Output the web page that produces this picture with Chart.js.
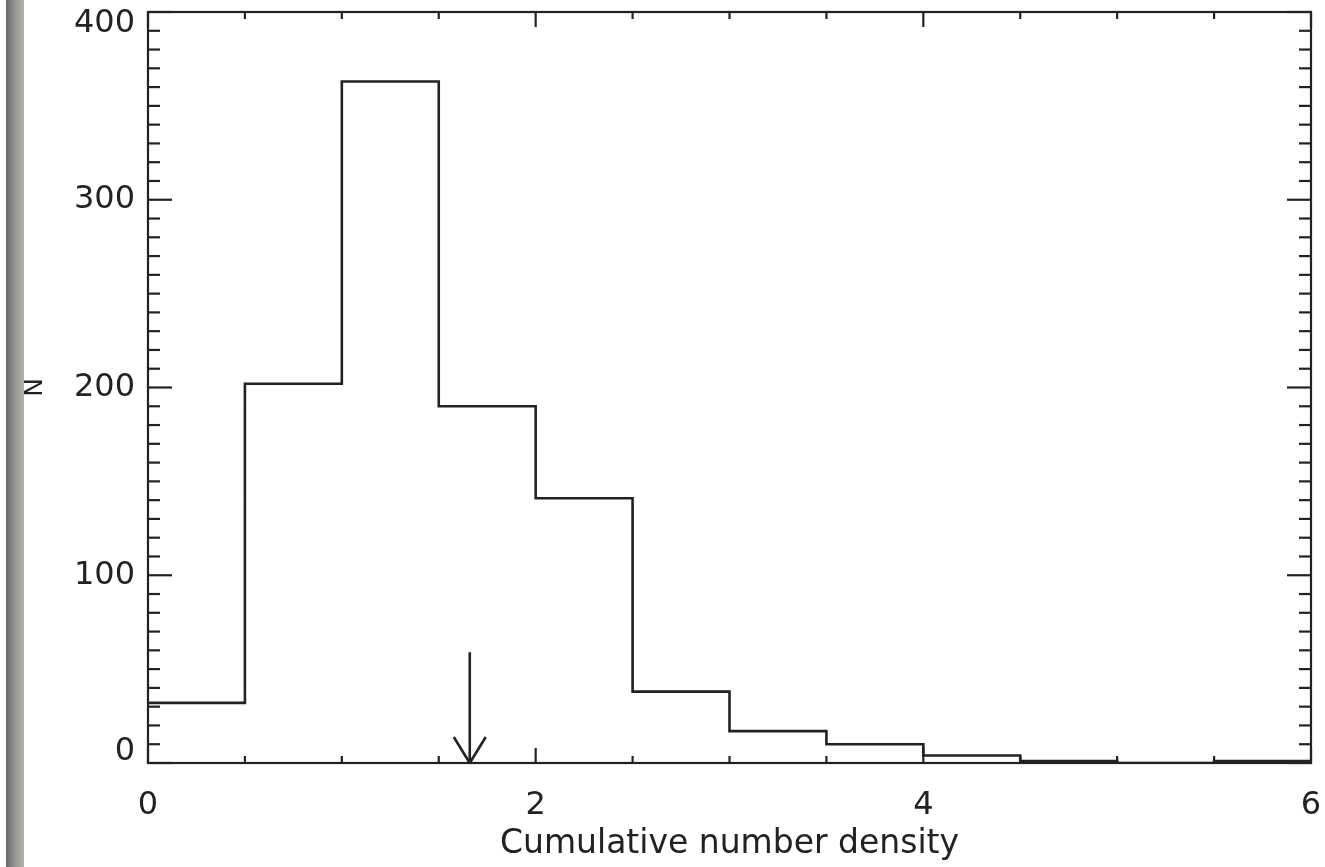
<!DOCTYPE html>
<html>
<head>
<meta charset="utf-8">
<script src="https://cdn.jsdelivr.net/npm/chart.js@4"></script>
<style>
    html, body { margin: 0; padding: 0; background: #fff; }
    .wrap { position: relative; width: 1325px; height: 867px; }
    .side { position: absolute; left: 6px; top: 0; width: 18px; height: 867px;
            background: linear-gradient(to right, #6a6a6a, #9c9c98 60%, #b2b2ac); }
</style>
</head>
<body>
<div class="wrap">
    <canvas id="myChart" width="1325" height="867"></canvas>
    <div class="side"></div>
</div>
<script>
// bin edges (0.5 wide) and counts per bin
const binEdges = [0, 0.5, 1, 1.5, 2, 2.5, 3, 3.5, 4, 4.5, 5, 5.5, 6];
const counts = [32, 202, 363, 190, 141, 38, 17, 10, 4, 1, 0, 1];

// the arrow marking the mean
const arrowX = [1.66, 1.66];
const arrowY = [59, 0];

const yMajor = [0, 100, 200, 300, 400];
const xMajor = [0, 2, 4, 6];

const ink = "#222";
const labelFont = { family: "DejaVu Sans", size: 32 };

// point at each left edge, last count repeated at the right end
const histPoints = binEdges.map((e, i) => ({ x: e, y: counts[Math.min(i, counts.length - 1)] }));
const arrowPoints = arrowX.map((v, i) => ({ x: v, y: arrowY[i] }));

// frame + inward ticks on all four sides, plus the arrow head
const framePlugin = {
    id: "frame",
    afterDatasetsDraw(chart) {
        const { ctx, chartArea: a, scales: { x, y } } = chart;
        const line = (x1, y1, x2, y2) => {
            ctx.beginPath();
            ctx.moveTo(x1, y1);
            ctx.lineTo(x2, y2);
            ctx.stroke();
        };
        ctx.save();
        ctx.strokeStyle = ink;
        ctx.lineWidth = 2.2;
        ctx.strokeRect(a.left, a.top, a.width, a.height);

        y.ticks.forEach(t => {
            const p = y.getPixelForValue(t.value);
            const len = yMajor.includes(t.value) ? 24 : 12;
            line(a.left, p, a.left + len, p);
            line(a.right, p, a.right - len, p);
        });
        x.ticks.forEach(t => {
            const p = x.getPixelForValue(t.value);
            const len = xMajor.includes(t.value) ? 15 : 7;
            line(p, a.bottom, p, a.bottom - len);
            line(p, a.top, p, a.top + len);
        });

        // arrow head
        const tipX = x.getPixelForValue(arrowX[1]);
        const tipY = y.getPixelForValue(arrowY[1]);
        ctx.lineWidth = 2.6;
        line(tipX - 16, tipY - 26, tipX, tipY);
        line(tipX + 16, tipY - 26, tipX, tipY);
        ctx.restore();
    }
};

const ctx = document.getElementById("myChart").getContext("2d");

const yMin = 0, yMax = 400;

const config = {
    type: "line",
    data: {
        datasets: [
            {
                data: histPoints,
                stepped: "before",
                borderColor: ink,
                borderWidth: 2.6,
                pointRadius: 0,
                fill: false
            },
            {
                data: arrowPoints,
                borderColor: ink,
                borderWidth: 2.6,
                pointRadius: 0,
                fill: false
            }
        ]
    },
    options: {
        responsive: false,
        animation: false,
        layout: { padding: { left: 0, top: 12, right: 14, bottom: 0 } },
        plugins: {
            legend: { display: false },
            tooltip: { enabled: false }
        },
        scales: {
            x: {
                type: "linear",
                min: 0,
                max: 6,
                grid: { display: false, drawTicks: false },
                border: { display: false },
                ticks: {
                    stepSize: 0.5,
                    autoSkip: false,
                    maxRotation: 0,
                    padding: 23,
                    color: ink,
                    font: labelFont,
                    callback: v => (xMajor.includes(v) ? String(v) : "")
                },
                title: {
                    display: true,
                    text: "Cumulative number density",
                    color: ink,
                    font: { family: "DejaVu Sans", size: 33 },
                    padding: { top: 0, bottom: 3 }
                },
                afterFit(scale) {
                    scale.height = 104;
                    scale.paddingLeft = 0;
                    scale.paddingRight = 0;
                }
            },
            y: {
                type: "linear",
                min: yMin,
                max: yMax,
                grid: { display: false, drawTicks: false },
                border: { display: false },
                ticks: {
                    stepSize: 10,
                    autoSkip: false,
                    padding: 13,
                    color: ink,
                    // end labels are nudged inside the frame, like the original
                    font: c => {
                        const v = c.tick && c.tick.value;
                        if (v === yMax) return { ...labelFont, lineHeight: "24px" };
                        if (v === yMin) return { ...labelFont, lineHeight: "22px" };
                        return labelFont;
                    },
                    callback: v => {
                        if (!yMajor.includes(v)) return "";
                        if (v === yMax) return ["", String(v)];
                        if (v === yMin) return [String(v), ""];
                        return String(v);
                    }
                },
                title: {
                    display: true,
                    text: "N",
                    color: ink,
                    font: { family: "DejaVu Sans", size: 25 },
                    padding: { top: 20, bottom: 0 }
                },
                afterFit(scale) {
                    scale.width = 148;
                    scale.paddingTop = 0;
                    scale.paddingBottom = 0;
                }
            }
        }
    },
    plugins: [framePlugin]
};

const myChart = new Chart(ctx, config);
</script>
</body>
</html>
